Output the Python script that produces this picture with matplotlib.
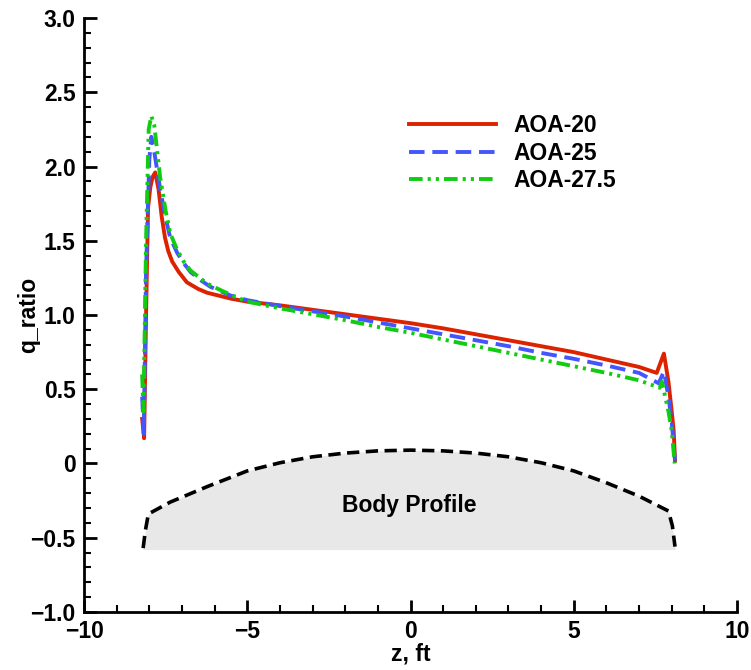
import matplotlib
matplotlib.use("Agg")
import matplotlib.pyplot as plt
from matplotlib.ticker import MultipleLocator

plt.rcParams['font.family'] = ['Liberation Sans', 'DejaVu Sans']
plt.rcParams['font.weight'] = 'bold'

# AOA-20
z20 = [-8.22, -8.16, -8.1, -8.04, -7.97, -7.9, -7.82, -7.72, -7.62, -7.52, -7.42, -7.3, -7.1, -6.85, -6.5,
       -6.23, -5.5, -5.0, -4.0, -3.0, -2.0, -1.0, 0.0, 1.0, 2.0, 3.0, 4.0, 5.0, 6.0, 7.0,
       7.54, 7.76, 7.9, 8.0, 8.06, 8.1]
q20 = [0.30, 0.17, 1.0, 1.72, 1.86, 1.93, 1.96, 1.85, 1.66, 1.52, 1.43, 1.36, 1.29, 1.22, 1.175,
       1.15, 1.11, 1.09, 1.065, 1.035, 1.005, 0.975, 0.945, 0.91, 0.87, 0.83, 0.79, 0.75, 0.70, 0.65,
       0.61, 0.74, 0.55, 0.35, 0.22, 0.02]
# AOA-25
z25 = [-8.22, -8.17, -8.1, -8.0, -7.94, -7.85, -7.67, -7.5, -7.36, -7.15, -6.95, -6.74, -6.4, -6.13, -5.5, -5.0,
       -4.0, -3.0, -2.0, -1.0, 0.0, 1.0, 2.0, 3.0, 4.0, 5.0, 6.0, 7.0, 7.6, 7.76, 7.9, 8.0, 8.1]
q25 = [0.45, 0.20, 1.3, 2.05, 2.20, 2.10, 1.85, 1.65, 1.52, 1.42, 1.35, 1.29, 1.23, 1.19, 1.13, 1.10,
       1.06, 1.025, 0.99, 0.95, 0.91, 0.87, 0.83, 0.79, 0.745, 0.705, 0.66, 0.61, 0.54, 0.62, 0.45, 0.28, 0.02]
# AOA-27.5
z275 = [-8.22, -8.18, -8.1, -8.02, -7.94, -7.85, -7.67, -7.5, -7.36, -7.15, -6.95, -6.74, -6.4, -6.13, -5.5, -5.0,
        -4.0, -3.0, -2.0, -1.0, 0.0, 1.0, 2.0, 3.0, 4.0, 5.0, 6.0, 7.0, 7.63, 7.7, 7.9, 8.0, 8.09]
q275 = [0.60, 0.35, 1.5, 2.25, 2.34, 2.28, 1.93, 1.70, 1.55, 1.44, 1.36, 1.30, 1.24, 1.20, 1.135, 1.09,
        1.045, 1.005, 0.965, 0.92, 0.88, 0.835, 0.79, 0.745, 0.70, 0.655, 0.61, 0.56, 0.51, 0.55, 0.35, 0.22, 0.0]

# Body profile
zb = [-8.19, -8.12, -8.03, -7.36, -6.22, -5.0, -4.0, -3.0, -2.0, -1.0, 0.0, 1.0, 2.0,
      3.0, 4.0, 5.0, 6.0, 7.0, 7.9, 8.02, 8.1]
qb = [-0.57, -0.45, -0.34, -0.26, -0.155, -0.05, 0.005, 0.045, 0.07, 0.085, 0.09, 0.085, 0.07,
      0.045, 0.005, -0.05, -0.13, -0.22, -0.32, -0.42, -0.56]
body_base = -0.58

yticks = [-1.0, -0.5, 0, 0.5, 1.0, 1.5, 2.0, 2.5, 3.0]
ytick_labels = ['\u22121.0', '\u22120.5', '0', '0.5', '1.0', '1.5', '2.0', '2.5', '3.0']
xticks = [-10, -5, 0, 5, 10]
xtick_labels = ['\u221210', '\u22125', '0', '5', '10']

fig = plt.figure(figsize=(7.51, 6.70), dpi=100)
ax = fig.add_axes([0.1119, 0.0866, 0.8695, 0.8865])

ax.fill_between(zb, qb, body_base, color='#e8e8e8', linewidth=0, zorder=1)
ax.plot(zb, qb, color='black', lw=2.6, dashes=(3.4, 1.8), zorder=2)
ax.text(-0.05, -0.28, 'Body Profile', ha='center', va='center', fontsize=16.5, fontweight='bold')

ax.plot(z20, q20, color='#dd2200', lw=2.8, label='AOA-20', zorder=3)
ax.plot(z25, q25, color='#4455ff', lw=2.8, dashes=(4, 2), label='AOA-25', zorder=4)
ax.plot(z275, q275, color='#11cc11', lw=2.8, dashes=(3.5, 1.3, 0.8, 1.3, 0.8, 1.3), label='AOA-27.5', zorder=5)

ax.set_xlim(-10, 10)
ax.set_ylim(-1.0, 3.0)
ax.xaxis.set_minor_locator(MultipleLocator(1))
ax.yaxis.set_minor_locator(MultipleLocator(0.1))
ax.set_yticks(yticks)
ax.set_yticklabels(ytick_labels)
ax.set_xticks(xticks)
ax.set_xticklabels(xtick_labels)

for s in ['top', 'right']:
    ax.spines[s].set_visible(False)
for s in ['left', 'bottom']:
    ax.spines[s].set_linewidth(2)
ax.tick_params(which='major', direction='in', length=9, width=2, labelsize=16.5, pad=6)
ax.tick_params(which='minor', direction='in', length=5, width=1.5)
for lab in ax.get_xticklabels() + ax.get_yticklabels():
    lab.set_fontweight('bold')

ax.set_xlabel('z, ft', fontsize=16.5, fontweight='bold')
ax.set_ylabel('q_ratio', fontsize=16.5, fontweight='bold')
ax.xaxis.set_label_coords(0.5, -0.052)
ax.yaxis.set_label_coords(-0.067, 0.5)

leg = ax.legend(loc='upper left', bbox_to_anchor=(0.498, 0.838), frameon=False, borderpad=0,
                borderaxespad=0, fontsize=16.5, handlelength=3.8, handletextpad=0.75, labelspacing=0.2)
for t in leg.get_texts():
    t.set_fontweight('bold')

fig.savefig('out.png', dpi=100)
